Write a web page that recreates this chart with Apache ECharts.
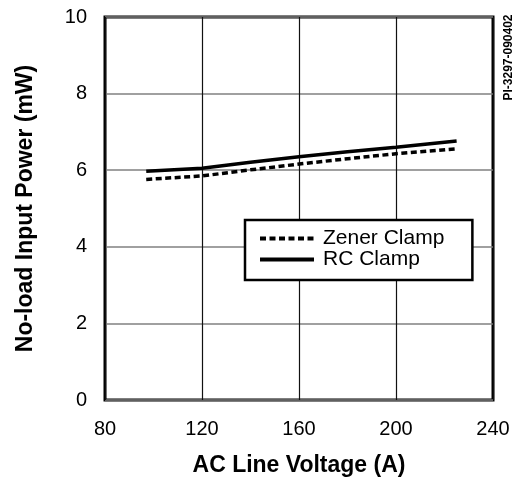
<!DOCTYPE html>
<html>
<head>
<meta charset="utf-8">
<script src="https://cdn.jsdelivr.net/npm/echarts@6/dist/echarts.min.js"></script>
<style>html,body{margin:0;padding:0;background:#fff}#c{width:516px;height:482px}</style>
</head>
<body>
<div id="c"></div>
<script>
var voltage = [97, 120, 140, 160, 180, 200, 225];
var zener = [5.76, 5.85, 6.01, 6.16, 6.30, 6.43, 6.56];
var rc = [5.97, 6.05, 6.21, 6.35, 6.48, 6.60, 6.76];
var seriesNames = ['Zener Clamp', 'RC Clamp'];
var xTicks = [80, 120, 160, 200, 240];
var yTicks = [0, 2, 4, 6, 8, 10];

function pairs(xs, ys) { return xs.map(function (x, i) { return [x, ys[i]]; }); }

var chart = echarts.init(document.getElementById('c'));
var font = 'Liberation Sans, Arial, Helvetica, sans-serif';
chart.setOption({
  animation: false,
  grid: { left: 105, right: 23, top: 17, bottom: 77, show: true, borderColor: '#000', borderWidth: 3 },
  xAxis: {
    type: 'value', min: xTicks[0], max: xTicks[xTicks.length - 1], interval: 40,
    name: 'AC Line Voltage (A)', nameLocation: 'middle', nameGap: 54,
    nameTextStyle: { fontFamily: font, fontWeight: 'bold', fontSize: 23, color: '#000' },
    axisLine: { show: false }, axisTick: { show: false },
    axisLabel: { fontFamily: font, fontSize: 20, color: '#000', margin: 19 },
    splitLine: { lineStyle: { color: '#111', width: 1.2 } }
  },
  yAxis: {
    type: 'value', min: yTicks[0], max: yTicks[yTicks.length - 1], interval: 2,
    name: 'No-load Input Power (mW)', nameLocation: 'middle', nameGap: 68,
    nameTextStyle: { fontFamily: font, fontWeight: 'bold', fontSize: 23, color: '#000' },
    axisLine: { show: false }, axisTick: { show: false },
    axisLabel: { fontFamily: font, fontSize: 20, color: '#000', margin: 18 },
    splitLine: { lineStyle: { color: '#808080', width: 1.5 } }
  },
  legend: {
    orient: 'vertical', left: 245, top: 220,
    data: seriesNames,
    itemWidth: 54, itemHeight: 14, itemGap: 0,
    padding: [8, 28, 10, 13],
    borderColor: '#000', borderWidth: 2.5, backgroundColor: '#fff',
    itemStyle: { opacity: 0 },
    lineStyle: { width: 4 },
    textStyle: { fontFamily: font, fontSize: 21, lineHeight: 20, color: '#000', padding: [0, 0, 0, 4] }
  },
  graphic: [{
    type: 'text', x: 508.5, y: 57.5, rotation: Math.PI / 2,
    style: { text: 'PI-3297-090402', font: 'bold 12px ' + font, fill: '#000',
      align: 'center', verticalAlign: 'middle', textAlign: 'center', textVerticalAlign: 'middle' }
  }],
  series: [
    { name: seriesNames[0], type: 'line', data: pairs(voltage, zener), symbol: 'none', smooth: false,
      lineStyle: { color: '#000', width: 3.5, type: [6, 3.5] }, itemStyle: { color: '#000' } },
    { name: seriesNames[1], type: 'line', data: pairs(voltage, rc), symbol: 'none', smooth: false,
      lineStyle: { color: '#000', width: 3.5 }, itemStyle: { color: '#000' } }
  ]
});
</script>
</body>
</html>
